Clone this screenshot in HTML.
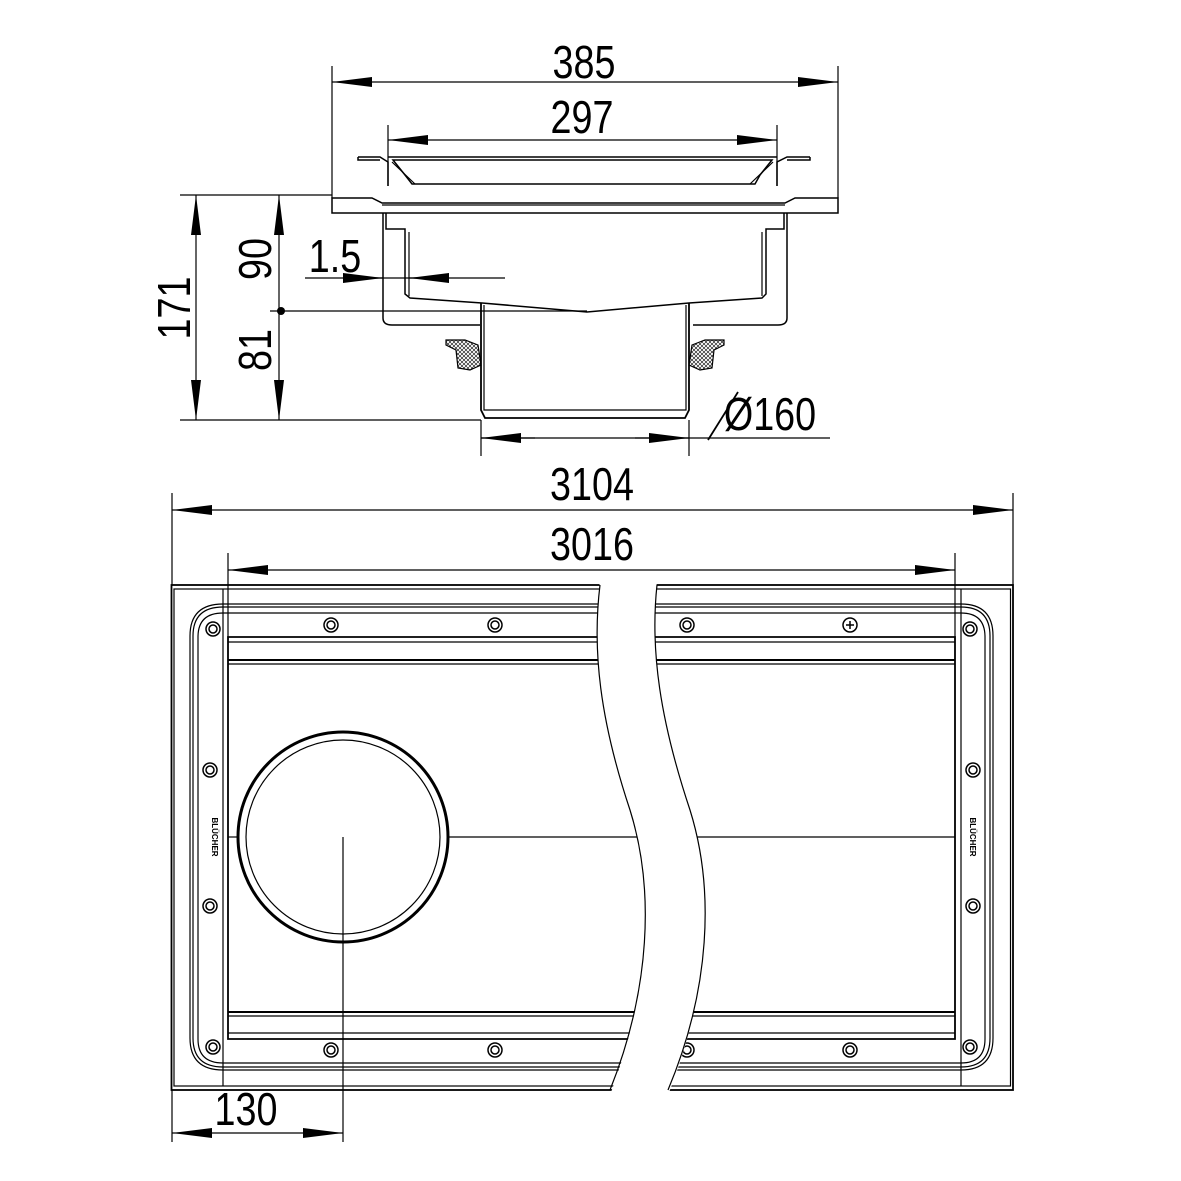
<!DOCTYPE html>
<html><head><meta charset="utf-8"><style>html,body{margin:0;padding:0;background:#fff}svg{display:block}text{font-family:"Liberation Sans",sans-serif;fill:#000}</style></head><body>
<svg width="1181" height="1181" viewBox="0 0 1181 1181" xmlns="http://www.w3.org/2000/svg">
<defs>
<marker id="a" viewBox="0 0 40 10" refX="40" refY="5" markerWidth="40" markerHeight="10" markerUnits="userSpaceOnUse" orient="auto-start-reverse"><path d="M0,0 L40,5 L0,10z" fill="#000"/></marker>
<pattern id="h" width="4" height="4" patternUnits="userSpaceOnUse"><path d="M0,0L4,4M4,0L0,4" stroke="#000" stroke-width="0.6"/></pattern>
</defs>
<g fill="none" stroke="#000" stroke-width="1.2">
<!-- top section dims -->
<line x1="332" y1="66" x2="332" y2="198"/><line x1="838" y1="66" x2="838" y2="198"/>
<line x1="332" y1="82" x2="838" y2="82" marker-start="url(#a)" marker-end="url(#a)"/>
<line x1="388" y1="125" x2="388" y2="186"/><line x1="777" y1="125" x2="777" y2="186"/>
<line x1="388" y1="140" x2="777" y2="140" marker-start="url(#a)" marker-end="url(#a)"/>
<!-- grate -->
<path d="M358,157 L380,157 L388,162 L388,186 M358,157 L358,160 L380,160 M810,157 L787,157 L777,162 L777,186 M810,157 L810,160 L787,160" stroke-width="1.5"/>
<path d="M388,157 L777,157 M393,160 L772,160 L760,175 L755,184 L412,184 L405,175 Z" stroke-width="1.5"/>
<path d="M392,162 L415,184 M773,162 L750,184"/>
<!-- flange -->
<path d="M332,198 L372,198 L382,203 L785,203 L795,198 L838,198 L838,213 L332,213 Z" stroke-width="1.5"/>
<line x1="382" y1="205" x2="785" y2="205"/>
<!-- body -->
<path d="M383,213 L383,318 Q383,325 392,325 L480,325 M693,325 L778,325 Q787,325 787,318 L787,213" stroke-width="1.5"/>
<path d="M386,213 L386,229 L405,229 L405,294 L410,298 L482,303 L587,312 L689,303 L762,298 L766,294 L766,229 L784,229 L784,213" stroke-width="1.5"/>
<path d="M409,232 L409,296 M762,232 L762,296"/>
<!-- pipe -->
<path d="M481,303 L481,410 L485,418 L685,418 L689,410 L689,303" stroke-width="1.8"/>
<path d="M484,305 L484,410 L686,410 L686,305"/>
<!-- gaskets -->
<path d="M446,340 L465,340 L478,345 L481,365 L470,370 L458,368 L456,350 L446,345 Z" fill="url(#h)"/>
<path d="M724,340 L705,340 L692,345 L689,365 L700,370 L712,368 L714,350 L724,345 Z" fill="url(#h)"/>
<!-- left dims -->
<line x1="180" y1="195" x2="332" y2="195"/>
<line x1="270" y1="311" x2="587" y2="311"/>
<line x1="180" y1="420" x2="481" y2="420"/>
<line x1="196" y1="195" x2="196" y2="420" marker-start="url(#a)" marker-end="url(#a)"/>
<line x1="279" y1="195" x2="279" y2="311" marker-start="url(#a)"/>
<line x1="279" y1="311" x2="279" y2="420" marker-end="url(#a)"/>
<line x1="305" y1="278" x2="505" y2="278"/>
<line x1="345" y1="278" x2="383" y2="278" marker-end="url(#a)"/>
<line x1="449" y1="278" x2="409" y2="278" marker-end="url(#a)"/>
<!-- Ø160 -->
<line x1="481" y1="420" x2="481" y2="456"/><line x1="689" y1="420" x2="689" y2="456"/>
<line x1="481" y1="438" x2="830" y2="438"/>
<line x1="535" y1="438" x2="481" y2="438" marker-end="url(#a)"/>
<line x1="635" y1="438" x2="689" y2="438" marker-end="url(#a)"/>
<!-- plan dims -->
<line x1="172" y1="493" x2="172" y2="585"/><line x1="1013" y1="493" x2="1013" y2="585"/>
<line x1="172" y1="510" x2="1013" y2="510" marker-start="url(#a)" marker-end="url(#a)"/>
<line x1="228" y1="553" x2="228" y2="640"/><line x1="955" y1="553" x2="955" y2="640"/>
<line x1="228" y1="570" x2="955" y2="570" marker-start="url(#a)" marker-end="url(#a)"/>
<!-- plan outer -->
<rect x="171.5" y="585" width="841.5" height="505" stroke-width="1.8"/>
<rect x="174" y="589" width="836.5" height="497"/>
<line x1="223" y1="589" x2="223" y2="1086"/><line x1="961" y1="589" x2="961" y2="1086"/>
<g stroke-width="1.2">
<path d="M223,604 L961,604 Q993,604 993,636 L993,1038 Q993,1070 961,1070 L223,1070 Q190,1070 190,1038 L190,636 Q190,604 223,604 Z"/>
<path d="M223,607 L961,607 Q990,607 990,636 L990,1038 Q990,1067 961,1067 L223,1067 Q193,1067 193,1038 L193,636 Q193,607 223,607 Z"/>
<path d="M223,613 L961,613 Q985,613 985,637 L985,1039 Q985,1063 961,1063 L223,1063 Q198,1063 198,1039 L198,637 Q198,613 223,613 Z"/>
</g>
<path d="M228,637 L955,637 L955,1039 L228,1039 Z" stroke-width="1.8"/>
<line x1="228" y1="642" x2="955" y2="642"/><line x1="228" y1="660" x2="955" y2="660" stroke-width="2"/><line x1="228" y1="664" x2="955" y2="664"/>
<line x1="228" y1="1033" x2="955" y2="1033"/><line x1="228" y1="1016" x2="955" y2="1016"/><line x1="228" y1="1012" x2="955" y2="1012" stroke-width="2"/>
<line x1="228" y1="837" x2="238" y2="837"/><line x1="448" y1="837" x2="955" y2="837"/>
<!-- circle -->
<circle cx="343" cy="837" r="105" stroke-width="3"/>
<circle cx="343" cy="837" r="97"/>
<line x1="343" y1="837" x2="343" y2="1142"/>
<!-- bolts -->
<g stroke-width="1.5">
<circle cx="213" cy="629" r="7"/><circle cx="213" cy="629" r="4"/>
<circle cx="331" cy="625" r="7"/><circle cx="331" cy="625" r="4"/>
<circle cx="495" cy="625" r="7"/><circle cx="495" cy="625" r="4"/>
<circle cx="687" cy="625" r="7"/><circle cx="687" cy="625" r="4"/>
<circle cx="850" cy="625" r="7"/><path d="M846,625H854M850,621V629"/>
<circle cx="970" cy="629" r="7"/><circle cx="970" cy="629" r="4"/>
<circle cx="213" cy="1047" r="7"/><circle cx="213" cy="1047" r="4"/>
<circle cx="331" cy="1050" r="7"/><circle cx="331" cy="1050" r="4"/>
<circle cx="495" cy="1050" r="7"/><circle cx="495" cy="1050" r="4"/>
<circle cx="687" cy="1050" r="7"/><circle cx="687" cy="1050" r="4"/>
<circle cx="850" cy="1050" r="7"/><circle cx="850" cy="1050" r="4"/>
<circle cx="970" cy="1047" r="7"/><circle cx="970" cy="1047" r="4"/>
<circle cx="210" cy="770" r="7"/><circle cx="210" cy="770" r="4"/>
<circle cx="210" cy="906" r="7"/><circle cx="210" cy="906" r="4"/>
<circle cx="973" cy="770" r="7"/><circle cx="973" cy="770" r="4"/>
<circle cx="973" cy="906" r="7"/><circle cx="973" cy="906" r="4"/>
</g>
<!-- break -->
<path d="M600,580 C592,650 600,720 630,810 C655,890 650,990 610,1095 L668,1095 C710,990 715,890 690,810 C660,720 650,650 657,580 Z" fill="#fff" stroke="none"/>
<path d="M600,585 C592,650 600,720 630,810 C655,890 650,990 610,1090"/>
<path d="M657,585 C650,650 660,720 690,810 C715,890 710,990 668,1090"/>
<!-- 130 dim -->
<line x1="172" y1="1090" x2="172" y2="1142"/>
<line x1="172" y1="1133" x2="343" y2="1133" marker-start="url(#a)" marker-end="url(#a)"/>
<line x1="708" y1="440" x2="738" y2="392" stroke-width="1.8"/>
</g>
<circle cx="281" cy="311" r="4" fill="#000"/>
<g font-size="46">
<text x="584" y="78" text-anchor="middle" transform="translate(584 0) scale(0.82 1) translate(-584 0)">385</text>
<text x="582" y="133" text-anchor="middle" transform="translate(582 0) scale(0.82 1) translate(-582 0)">297</text>
<text x="592" y="500" text-anchor="middle" transform="translate(592 0) scale(0.82 1) translate(-592 0)">3104</text>
<text x="592" y="560" text-anchor="middle" transform="translate(592 0) scale(0.82 1) translate(-592 0)">3016</text>
<text x="246" y="1125" text-anchor="middle" transform="translate(246 0) scale(0.82 1) translate(-246 0)">130</text>
<text x="335" y="272" text-anchor="middle" transform="translate(335 0) scale(0.82 1) translate(-335 0)">1.5</text>
<text x="770" y="430" text-anchor="middle" transform="translate(770 0) scale(0.82 1) translate(-770 0)">Ø160</text>
<text transform="translate(190 308) rotate(-90) scale(0.82 1)" text-anchor="middle">171</text>
<text transform="translate(271 259) rotate(-90) scale(0.82 1)" text-anchor="middle">90</text>
<text transform="translate(271 350) rotate(-90) scale(0.82 1)" text-anchor="middle">81</text>
</g>
<text transform="translate(212 837) rotate(90)" text-anchor="middle" font-size="8" font-weight="bold">BLÜCHER</text>
<text transform="translate(970 837) rotate(90)" text-anchor="middle" font-size="8" font-weight="bold">BLÜCHER</text>
</svg>
</body></html>
